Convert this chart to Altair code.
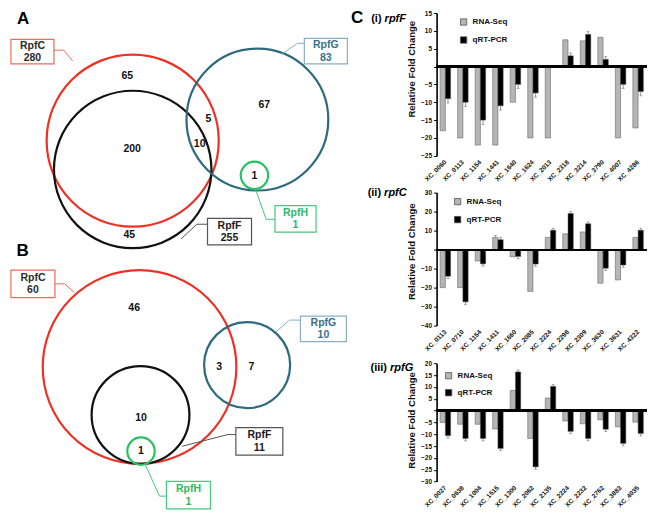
import altair as alt
import pandas as pd

K = 0.978          # uniform shrink so the figure fits the 500px high page area
FONT = "Liberation Sans"

# ---------------- Venn diagrams (A, B): circle centres / radii ----------------
circle_set = ["RpfC", "RpfF", "RpfG", "RpfH", "RpfC", "RpfF", "RpfG", "RpfH"]
circle_cx = [127.5, 127.5, 255.0, 252.0, 134.5, 135.5, 244.5, 136.0]
circle_cy = [136.5, 166.0, 115.0, 172.0, 368.0, 417.0, 366.0, 454.0]
circle_r = [88.0, 80.5, 72.5, 14.0, 99.0, 50.0, 44.0, 14.0]

# region counts
region_text = ["65", "200", "45", "5", "10", "67", "1", "46", "10", "1", "3", "7"]
region_x = [122, 127, 124, 205, 196, 262, 252, 129, 136, 136, 216, 249]
region_y = [70, 145, 233, 114, 140, 100, 173, 308, 420, 454, 368, 368]

# set label boxes
box_set = ["RpfC", "RpfG", "RpfF", "RpfH", "RpfC", "RpfG", "RpfF", "RpfH"]
box_total = ["280", "83", "255", "1", "60", "10", "11", "1"]
box_x1 = [3, 303, 204, 273, 3, 299, 233, 162]
box_x2 = [47, 347, 249, 315, 48, 346, 281, 207]
box_y1 = [33, 32, 216, 203, 269, 316, 430, 485]
box_y2 = [58, 58, 243, 230, 297, 342, 458, 513]

# leader line segments
lead_set = ["RpfC", "RpfC", "RpfG", "RpfG", "RpfF", "RpfF", "RpfH", "RpfH",
            "RpfC", "RpfC", "RpfG", "RpfG", "RpfF", "RpfF", "RpfH", "RpfH"]
lead_x1 = [47, 57, 303, 296, 204, 193, 253, 264, 48, 58, 299, 288, 178, 225, 140, 155]
lead_y1 = [44, 44, 37, 37, 222, 222, 186, 217, 283, 283, 320, 320, 449, 437, 467, 500]
lead_x2 = [57, 66, 296, 280, 193, 177, 264, 273, 58, 68, 288, 274, 225, 233, 155, 162]
lead_y2 = [44, 55, 37, 48, 222, 237, 217, 217, 283, 292, 320, 332, 437, 437, 500, 500]

# panel letters and sub-panel captions
letter_text = ["A", "B", "C"]
letter_x = [15.5, 15, 357]
letter_y = [12.5, 249, 11]
sub_num = ["(i)", "(ii)", "(iii)"]
sub_gene = ["rpfF", "rpfC", "rpfG"]
sub_x = [382, 381.5, 387.5]
sub_y = [12, 190, 369]

# ---------------- Bar panels (C) ----------------
SERIES = ["RNA-Seq", "qRT-PCR"]

genes_i = ["XC_0060", "XC_0113", "XC_1154", "XC_1441", "XC_1640", "XC_1624",
           "XC_2013", "XC_2318", "XC_3214", "XC_3790", "XC_4007", "XC_4286"]
rna_i = [-18, -20, -22, -22, -10, -20, -20, 7.5, 7.2, 8.2, -20, -17.2]
qrt_i = [-9, -10, -15, -11, -5, -7.4, None, 3, 9, 2, -5, -7]
rna_err_i = [0, 0, 0, 0, 0, 0, 0, 0, 0, 0, 0, 0]
qrt_err_i = [1.2, 1.2, 1.2, 1.2, 1.2, 1.2, 0, 0.8, 0.8, 0.8, 1.2, 1.2]

genes_ii = ["XC_0113", "XC_0710", "XC_1154", "XC_1411", "XC_1660", "XC_2085",
            "XC_2224", "XC_2298", "XC_2309", "XC_3630", "XC_3631", "XC_4322"]
rna_ii = [-20, -20, -6, 6.4, -3.8, -22, 6.4, 8.3, 9.3, -17.7, -16, 6.4]
qrt_ii = [-14, -27.5, -7.5, 5.2, -3.6, -7.6, 10.2, 19, 13.6, -9.8, -8.1, 10.2]
rna_err_ii = [0, 0, 0, 1.0, 0, 0, 0, 0, 0, 0, 0, 0]
qrt_err_ii = [1.2, 1.5, 1.2, 1.2, 1.2, 1.2, 1.0, 1.0, 1.0, 1.2, 1.2, 1.0]

genes_iii = ["XC_0027", "XC_0638", "XC_1004", "XC_1515", "XC_1300", "XC_2062",
             "XC_2135", "XC_2224", "XC_2232", "XC_2762", "XC_3883", "XC_4035"]
rna_iii = [-5.1, -5.8, -5.8, -7.8, 8.5, -11.8, 5.3, -4.4, -5.6, -3.9, -6.9, -4.9]
qrt_iii = [-10.6, -11.8, -11.8, -16, 16.3, -23.8, 10.2, -8.8, -11.8, -7.9, -13.9, -9.7]
rna_err_iii = [0, 0, 0, 0, 0, 0, 0, 0, 0, 0, 0, 0]
qrt_err_iii = [1.0, 1.0, 1.0, 1.0, 0.8, 1.0, 0.8, 1.0, 1.0, 1.0, 1.0, 1.0]

# ---------------- styles ----------------
CIRCLE_COL = {"RpfC": "#ee3124", "RpfF": "#111111", "RpfG": "#2c6a7c", "RpfH": "#27c160"}
BOX_COL = {"RpfC": "#ec6b5e", "RpfF": "#555555", "RpfG": "#8aaec6", "RpfH": "#45c77e"}
TEXT_COL = {"RpfC": "#2b2b2b", "RpfF": "#1a1a1a", "RpfG": "#3a6f8b", "RpfH": "#2db866"}

xs = alt.Scale(domain=[0, 420], nice=False, zero=False)
ys = alt.Scale(domain=[6, 510], nice=False, zero=False, reverse=True)


def X(f):
    return alt.X(f, type="quantitative", scale=xs, axis=None)


def Y(f):
    return alt.Y(f, type="quantitative", scale=ys, axis=None)


circles = pd.DataFrame(dict(set=circle_set, cx=circle_cx, cy=circle_cy, r=circle_r))
boxes = pd.DataFrame(dict(set=box_set, total=box_total, x1=box_x1, x2=box_x2, y1=box_y1, y2=box_y2))
leads = pd.DataFrame(dict(set=lead_set, x1=lead_x1, y1=lead_y1, x2=lead_x2, y2=lead_y2))
regions = pd.DataFrame(dict(t=region_text, x=region_x, y=region_y))
letters = pd.DataFrame(dict(t=letter_text, x=letter_x, y=letter_y))
subs = pd.DataFrame(dict(num=sub_num, gene=sub_gene, x=sub_x, y=sub_y))

layers = []
for s in ["RpfC", "RpfF", "RpfG", "RpfH"]:
    flt = alt.datum.set == s
    layers.append(
        alt.Chart(circles).transform_filter(flt)
        .transform_calculate(sz=f"pow(2*datum.r*{K}, 2)")
        .mark_point(shape="circle", filled=False, strokeWidth=2.2, opacity=1, color=CIRCLE_COL[s])
        .encode(x=X("cx"), y=Y("cy"), size=alt.Size("sz:Q", scale=None, legend=None))
    )
for s in ["RpfC", "RpfF", "RpfG", "RpfH"]:
    flt = alt.datum.set == s
    layers.append(
        alt.Chart(leads).transform_filter(flt)
        .mark_rule(color=BOX_COL[s], strokeWidth=1)
        .encode(x=X("x1"), y=Y("y1"), x2="x2:Q", y2="y2:Q")
    )
    layers.append(
        alt.Chart(boxes).transform_filter(flt)
        .mark_rect(fill="white", stroke=BOX_COL[s], strokeWidth=1.2)
        .encode(x=X("x1"), y=Y("y1"), x2="x2:Q", y2="y2:Q")
    )
    layers.append(
        alt.Chart(boxes).transform_filter(flt)
        .transform_calculate(xm="(datum.x1 + datum.x2) / 2", ym="(datum.y1 + datum.y2) / 2",
                             label="datum.set + '\\n' + datum.total")
        .mark_text(font=FONT, fontSize=10.5, fontWeight="bold", color=TEXT_COL[s],
                   lineBreak="\n", lineHeight=12.5, align="center", baseline="middle", dy=-6)
        .encode(x=X("xm"), y=Y("ym"), text="label:N")
    )

layers.append(
    alt.Chart(regions).mark_text(font=FONT, fontSize=10.5, fontWeight="bold", color="#111",
                                 align="center", baseline="middle")
    .encode(x=X("x"), y=Y("y"), text="t:N")
)
layers.append(
    alt.Chart(letters).mark_text(font=FONT, fontSize=17, fontWeight="bold", color="#000",
                                 align="center", baseline="middle")
    .encode(x=X("x"), y=Y("y"), text="t:N")
)
layers.append(
    alt.Chart(subs).mark_text(font=FONT, fontSize=11, fontWeight="bold", color="#000",
                              align="right", baseline="middle")
    .encode(x=X("x"), y=Y("y"), text="num:N")
)
layers.append(
    alt.Chart(subs).mark_text(font=FONT, fontSize=11, fontWeight="bold", fontStyle="italic",
                              color="#000", align="left", baseline="middle", dx=3)
    .encode(x=X("x"), y=Y("y"), text="gene:N")
)

venn = alt.layer(*layers).properties(width=420 * K, height=504 * K)


def bar_panel(genes, rna, qrt, rna_err, qrt_err, ymin, ymax, ticks, h, lx, ly, row_pad, title_y):
    n = len(genes)
    df = pd.DataFrame({
        "gene": genes * 2,
        "series": [SERIES[0]] * n + [SERIES[1]] * n,
        "value": rna + qrt,
        "err": rna_err + qrt_err,
    })
    xaxis = alt.Axis(title=None, labelAngle=-45, labelAlign="right", labelBaseline="middle",
                     labelFontSize=6.5, labelFontWeight="bold", labelColor="#111", labelFont=FONT,
                     labelPadding=5, domain=False, ticks=False, labelOverlap=False)
    xband = alt.Scale(paddingInner=0.4, paddingOuter=0.2)
    xoff = alt.XOffset("series:N", sort=SERIES, scale=alt.Scale(paddingInner=0, paddingOuter=0))
    ysc = alt.Scale(domain=[ymin, ymax], nice=False)
    yaxis = alt.Axis(values=ticks, tickCount=len(ticks) + 2,
                     labelExpr="datum.value == 0 ? '' : datum.label",
                     title="Relative Fold Change", titleFont=FONT, titleFontSize=9.5,
                     titleFontWeight="bold", titleColor="#111", titleY=title_y, titlePadding=4,
                     labelFont=FONT, labelFontSize=6.5, labelFontWeight="bold", labelColor="#111",
                     labelPadding=2, labelFlush=False, labelOverlap=False, labelBound=False,
                     tickSize=3, tickColor="black", tickWidth=1,
                     domainColor="black", domainWidth=1.6, grid=False)
    color = alt.Color("series:N", sort=SERIES,
                      scale=alt.Scale(domain=SERIES, range=["#b5b5b5", "#000000"]),
                      legend=alt.Legend(title=None, orient="none", legendX=lx, legendY=ly,
                                        direction="vertical", symbolType="square", symbolSize=40,
                                        symbolStrokeColor="#444", symbolStrokeWidth=0.7,
                                        labelFont=FONT, labelFontSize=8, labelFontWeight="bold",
                                        labelColor="#111", labelOffset=5, rowPadding=row_pad,
                                        padding=0))
    base = alt.Chart(df)
    bars = base.transform_filter("isValid(datum.value)").mark_bar(stroke="#555", strokeWidth=0.5).encode(
        x=alt.X("gene:N", sort=genes, scale=xband, axis=xaxis),
        xOffset=xoff,
        y=alt.Y("value:Q", scale=ysc, axis=yaxis),
        color=color,
    )
    errs = base.transform_filter("isValid(datum.value) && datum.err > 0").transform_calculate(
        end="datum.value < 0 ? datum.value - datum.err : datum.value + datum.err")
    err_rule = errs.mark_rule(color="#777", strokeWidth=0.8).encode(
        x=alt.X("gene:N", sort=genes), xOffset=xoff, y="value:Q", y2="end:Q")
    err_cap = errs.mark_tick(color="#777", thickness=0.8, size=3).encode(
        x=alt.X("gene:N", sort=genes), xOffset=xoff, y="end:Q")
    zero = base.mark_rule(color="black", strokeWidth=1.4).encode(y=alt.datum(0))
    return alt.layer(bars, err_rule, err_cap, zero).properties(width=215 * K, height=h * K)


b1 = bar_panel(genes_i, rna_i, qrt_i, rna_err_i, qrt_err_i, -25, 15,
               [-25, -20, -15, -10, -5, 0, 5, 10, 15], 146, 23, 5, 8, 57 * K)
b2 = bar_panel(genes_ii, rna_ii, qrt_ii, rna_err_ii, qrt_err_ii, -40, 30,
               [-40, -30, -20, -10, 0, 10, 20, 30], 136, 17, 5, 8, 60 * K)
b3 = bar_panel(genes_iii, rna_iii, qrt_iii, rna_err_iii, qrt_err_iii, -30, 20,
               [-30, -25, -20, -15, -10, -5, 0, 5, 10, 15, 20], 121, 8, 8.5, 7, 58 * K)

right = alt.vconcat(b1, b2, b3, spacing=36.6, bounds="flush").resolve_scale(
    x="independent", y="independent", color="independent").resolve_legend(color="independent")

chart = alt.hconcat(venn, right, spacing=18 * K, bounds="flush").properties(padding=0).configure(
    font=FONT).configure_view(stroke=None)

chart.save("out.html", embed_options={"renderer": "svg", "actions": False})
